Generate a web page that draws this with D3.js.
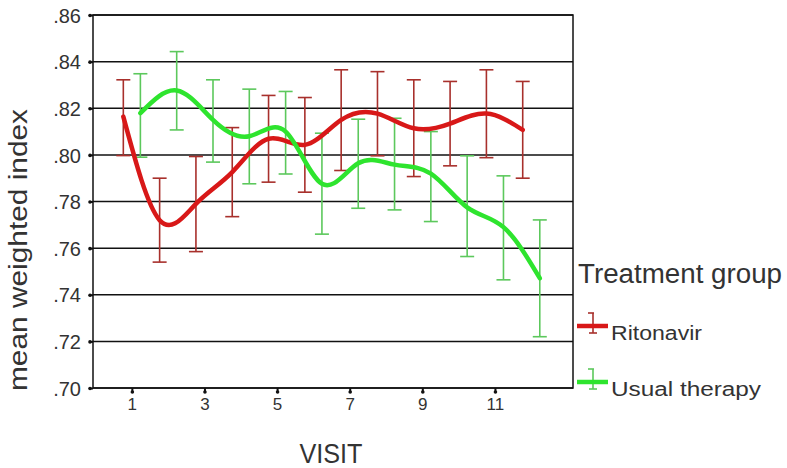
<!DOCTYPE html>
<html>
<head>
<meta charset="utf-8">
<script src="https://cdn.jsdelivr.net/npm/d3@7/dist/d3.min.js"></script>
<style>
  html, body { margin: 0; padding: 0; background: #fff; }
  svg { display: block; }
  text { font-family: "Liberation Sans", Arial, sans-serif; fill: #333; }
</style>
</head>
<body>
<svg id="chart" width="787" height="468"></svg>
<script>
const visits = [1, 2, 3, 4, 5, 6, 7, 8, 9, 10, 11, 12];
const xTickValues = [1, 3, 5, 7, 9, 11];
const yTickValues = [0.70, 0.72, 0.74, 0.76, 0.78, 0.80, 0.82, 0.84, 0.86];
const seriesNames = ["Ritonavir", "Usual therapy"];

const ritonavirMean  = [0.8164, 0.7720, 0.7790, 0.7926, 0.8069, 0.8043, 0.8150, 0.8177, 0.8114, 0.8134, 0.8177, 0.8107];
const ritonavirLower = [0.7997, 0.7540, 0.7585, 0.7735, 0.7883, 0.7840, 0.7933, 0.7996, 0.7907, 0.7953, 0.7988, 0.7900];
const ritonavirUpper = [0.8322, 0.7900, 0.7993, 0.8117, 0.8255, 0.8246, 0.8365, 0.8357, 0.8322, 0.8315, 0.8365, 0.8315];

const usualMean  = [0.8179, 0.8276, 0.8150, 0.8080, 0.8100, 0.7876, 0.7964, 0.7958, 0.7920, 0.7775, 0.7690, 0.7471];
const usualLower = [0.7990, 0.8107, 0.7969, 0.7876, 0.7918, 0.7660, 0.7771, 0.7764, 0.7714, 0.7564, 0.7464, 0.7220];
const usualUpper = [0.8348, 0.8443, 0.8322, 0.8282, 0.8272, 0.8093, 0.8153, 0.8157, 0.8100, 0.7996, 0.7910, 0.7721];

const svg = d3.select("#chart");
const L = 93, R = 573, T = 15, B = 388;

const x = d3.scaleLinear().domain([-0.07, 13.15]).range([L, R]);
const y = d3.scaleLinear().domain([0.70, 0.86]).range([B, T]);

const series = [
  { name: seriesNames[0], mean: ritonavirMean, lo: ritonavirLower, hi: ritonavirUpper,
    offset: -0.235, line: "#d81818", bar: "#a8302c" },
  { name: seriesNames[1], mean: usualMean, lo: usualLower, hi: usualUpper,
    offset: 0.235, line: "#2ee42e", bar: "#5cc85c" }
];

// gridlines
svg.append("g").selectAll("line").data(yTickValues).join("line")
  .attr("x1", L).attr("x2", R)
  .attr("y1", d => y(d)).attr("y2", d => y(d))
  .attr("stroke", "#111").attr("stroke-width", 1.5);

// frame
svg.append("rect").attr("x", L).attr("y", T).attr("width", R - L).attr("height", B - T)
  .attr("fill", "none").attr("stroke", "#111").attr("stroke-width", 1.5);

// y axis
const yAxis = svg.append("g").attr("transform", `translate(${L},0)`)
  .call(d3.axisLeft(y).tickValues(yTickValues).tickSize(3).tickPadding(9)
    .tickFormat(d => d3.format(".2f")(d).replace(/^0/, "")));
yAxis.select(".domain").remove();
yAxis.selectAll(".tick line").attr("stroke", "#111").attr("stroke-width", 2);
yAxis.selectAll(".tick").append("circle").attr("cx", -3).attr("r", 1.8).attr("fill", "#111");
yAxis.selectAll(".tick text").attr("font-size", 20).attr("fill", "#444").attr("dy", "0.36em")
  .style("font-family", '"Liberation Sans", Arial, sans-serif');

// x axis
const xAxis = svg.append("g").attr("transform", `translate(0,${B})`)
  .call(d3.axisBottom(x).tickValues(xTickValues).tickSize(4).tickPadding(6).tickFormat(d3.format("d")));
xAxis.select(".domain").remove();
xAxis.selectAll(".tick line").attr("stroke", "#111").attr("stroke-width", 2);
xAxis.selectAll(".tick").append("circle").attr("cy", 4).attr("r", 1.8).attr("fill", "#111");
xAxis.selectAll(".tick text").attr("font-size", 17).attr("fill", "#444")
  .style("font-family", '"Liberation Sans", Arial, sans-serif');

// error bars & lines
const cap = 7;
series.forEach(s => {
  const g = svg.append("g");
  const pts = visits.map((v, i) => ({ v, i }));
  g.selectAll("line.eb").data(pts).join("line").attr("class", "eb")
    .attr("x1", d => x(d.v + s.offset)).attr("x2", d => x(d.v + s.offset))
    .attr("y1", d => y(s.lo[d.i])).attr("y2", d => y(s.hi[d.i]))
    .attr("stroke", s.bar).attr("stroke-width", 1.6);
  g.selectAll("line.capt").data(pts).join("line").attr("class", "capt")
    .attr("x1", d => x(d.v + s.offset) - cap).attr("x2", d => x(d.v + s.offset) + cap)
    .attr("y1", d => y(s.hi[d.i])).attr("y2", d => y(s.hi[d.i]))
    .attr("stroke", s.bar).attr("stroke-width", 1.6);
  g.selectAll("line.capb").data(pts).join("line").attr("class", "capb")
    .attr("x1", d => x(d.v + s.offset) - cap).attr("x2", d => x(d.v + s.offset) + cap)
    .attr("y1", d => y(s.lo[d.i])).attr("y2", d => y(s.lo[d.i]))
    .attr("stroke", s.bar).attr("stroke-width", 1.6);
  s.g = g;
});
series.forEach(s => {
  const line = d3.line().curve(d3.curveNatural)
    .x((d, i) => x(visits[i] + s.offset)).y(d => y(d));
  svg.append("path").datum(s.mean).attr("d", line)
    .attr("fill", "none").attr("stroke", s.line).attr("stroke-width", 4.5)
    .attr("stroke-linejoin", "round").attr("stroke-linecap", "round");
});

// axis titles
svg.append("text").attr("transform", `translate(27,${(108 + 392) / 2}) rotate(-90)`)
  .attr("text-anchor", "middle").attr("font-size", 26).attr("fill", "#444")
  .attr("textLength", 282).attr("lengthAdjust", "spacingAndGlyphs")
  .text("mean weighted index");
svg.append("text").attr("x", 331).attr("y", 463)
  .attr("text-anchor", "middle").attr("font-size", 27).attr("fill", "#444")
  .attr("textLength", 63).attr("lengthAdjust", "spacingAndGlyphs")
  .text("VISIT");

// legend
svg.append("text").attr("x", 578).attr("y", 283).attr("font-size", 27).attr("fill", "#333")
  .attr("textLength", 204).attr("lengthAdjust", "spacingAndGlyphs")
  .text("Treatment group");
const legY = [326, 382];
series.forEach((s, i) => {
  const ly = legY[i];
  const lg = svg.append("g");
  lg.append("line").attr("x1", 593).attr("x2", 593).attr("y1", ly - 13).attr("y2", ly + 7)
    .attr("stroke", s.bar).attr("stroke-width", 1.6);
  lg.append("line").attr("x1", 588).attr("x2", 594).attr("y1", ly - 13).attr("y2", ly - 13)
    .attr("stroke", s.bar).attr("stroke-width", 1.6);
  lg.append("line").attr("x1", 589).attr("x2", 597).attr("y1", ly + 7).attr("y2", ly + 7)
    .attr("stroke", s.bar).attr("stroke-width", 1.6);
  lg.append("line").attr("x1", 577).attr("x2", 608).attr("y1", ly).attr("y2", ly)
    .attr("stroke", s.line).attr("stroke-width", 4.5);
  lg.append("text").attr("x", 611).attr("y", ly + 14).attr("font-size", 20).attr("fill", "#333")
    .attr("textLength", i === 0 ? 91 : 150).attr("lengthAdjust", "spacingAndGlyphs")
    .text(s.name);
});
</script>
</body>
</html>
